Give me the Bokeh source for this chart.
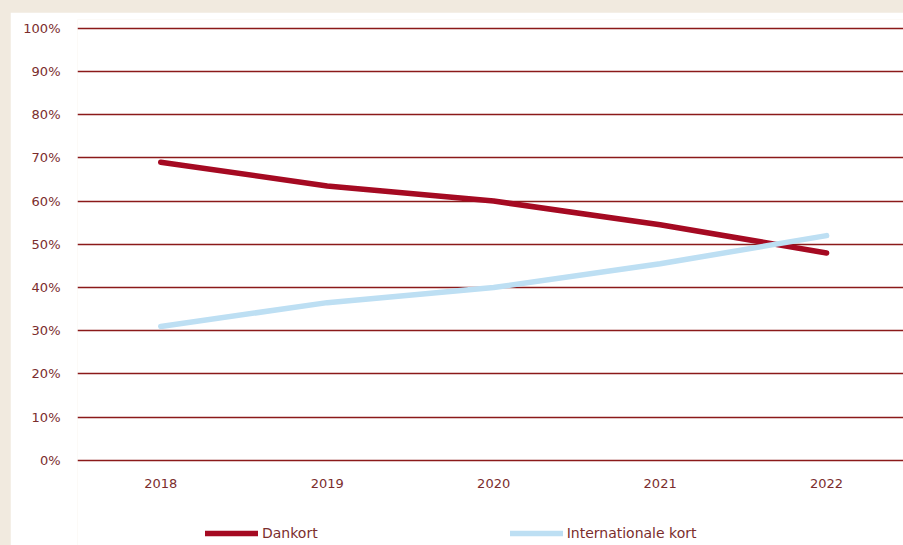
from bokeh.plotting import figure
from bokeh.models import Range1d, FixedTicker, NumeralTickFormatter, Legend, LegendItem, ColumnDataSource
from bokeh.core.properties import value
from bokeh.embed import file_html
from bokeh.resources import INLINE

years = ["2018", "2019", "2020", "2021", "2022"]
dankort = [0.69, 0.635, 0.60, 0.545, 0.48]
internationale = [0.31, 0.365, 0.40, 0.455, 0.52]
y_ticks = [0.0, 0.1, 0.2, 0.3, 0.4, 0.5, 0.6, 0.7, 0.8, 0.9, 1.0]
series_names = ["Dankort", "Internationale kort"]

TEXT = "#7B2D2D"
GRID = "#8B1A1A"
RED = "#A50A22"
BLUE = "#BDDFF3"
FONT = "DejaVu Sans"

x = list(range(len(years)))

p = figure(width=893, height=533, output_backend="svg", toolbar_location=None,
           x_range=Range1d(-0.5, 4.462), y_range=Range1d(-0.1968, 1.02),
           min_border_left=67, min_border_right=0, min_border_top=7,
           min_border_bottom=0)
p.outline_line_color = None
p.background_fill_color = "#FFFFFF"
p.border_fill_color = "#FFFFFF"

# axes
p.xaxis.visible = False
p.yaxis.ticker = FixedTicker(ticks=y_ticks)
p.yaxis.formatter = NumeralTickFormatter(format="0%")
p.yaxis.axis_line_color = None
p.yaxis.major_tick_line_color = None
p.yaxis.minor_tick_line_color = None
p.yaxis.major_tick_out = 0
p.yaxis.major_tick_in = 0
p.yaxis.major_label_text_color = TEXT
p.yaxis.major_label_text_font = FONT
p.yaxis.major_label_text_font_size = "13px"
p.yaxis.major_label_standoff = 17

p.xgrid.grid_line_color = None
p.ygrid.ticker = FixedTicker(ticks=y_ticks)
p.ygrid.grid_line_color = GRID
p.ygrid.grid_line_width = 1.5

# category labels under the 0% line
lab_src = ColumnDataSource(dict(x=x, y=[y_ticks[0]] * len(x), text=years))
p.text(x="x", y="y", text="text", source=lab_src, y_offset=23,
       text_align="center", text_baseline="middle",
       text_font=value(FONT), text_font_size="13px", text_color=TEXT)

r1 = p.line(x, dankort, line_color=RED, line_width=5.5, line_cap="round", line_join="round")
r2 = p.line(x, internationale, line_color=BLUE, line_width=5.5, line_cap="round", line_join="round")

legend = Legend(items=[LegendItem(label=series_names[0], renderers=[r1]),
                       LegendItem(label=series_names[1], renderers=[r2])],
                orientation="horizontal", location=(128, 4))
legend.border_line_color = None
legend.background_fill_alpha = 0
legend.glyph_width = 53
legend.glyph_height = 16
legend.label_standoff = 4
legend.spacing = 192
legend.padding = 0
legend.margin = 0
legend.label_text_font = FONT
legend.label_text_font_size = "14px"
legend.label_text_color = TEXT
p.add_layout(legend)

html = file_html(p, INLINE)
html = html.replace("<body>", '<body style="background-color:#F1EADF; padding:12px 0 0 10px;">')
open("out.html", "w").write(html)
